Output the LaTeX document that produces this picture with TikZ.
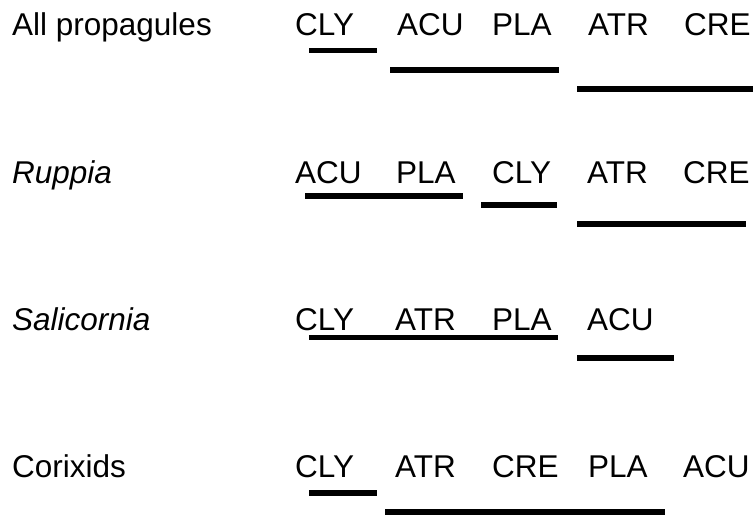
\documentclass[tikz,border=0pt]{standalone}
\usepackage{fontspec}
\setmainfont{Liberation Sans}
\begin{document}
\begin{tikzpicture}[x=1pt,y=-1pt,
  every node/.style={anchor=base west,inner sep=0pt,font=\fontsize{31.5}{36}\selectfont},
  bar/.style={line width=5.5pt,black}]

  \useasboundingbox (0,0) rectangle (753,528);

  % row labels
  \node (lAll) at (12,35) {All propagules};
  \node (lRup) at (12,183) {\itshape Ruppia};
  \node (lSal) at (12,330) {\itshape Salicornia};
  \node (lCor) at (12,477) {Corixids};

  % all propagules
  \node (aCLY) at (295,35) {CLY};
  \node (aACU) at (397,35) {ACU};
  \node (aPLA) at (492,35) {PLA};
  \node (aATR) at (588,35) {ATR};
  \node (aCRE) at (684,35) {CRE};
  \draw[bar] (309,50.5) -- (377,50.5);
  \draw[bar] (390,70) -- (559,70);
  \draw[bar] (577,89) -- (753,89);

  % Ruppia
  \node (rACU) at (295,183) {ACU};
  \node (rPLA) at (396,183) {PLA};
  \node (rCLY) at (492,183) {CLY};
  \node (rATR) at (587,183) {ATR};
  \node (rCRE) at (683,183) {CRE};
  \draw[bar] (305,196) -- (463,196);
  \draw[bar] (481,205) -- (557,205);
  \draw[bar] (577,224) -- (746,224);

  % Salicornia
  \node (sCLY) at (295,330) {CLY};
  \node (sATR) at (395,330) {ATR};
  \node (sPLA) at (492,330) {PLA};
  \node (sACU) at (587,330) {ACU};
  \draw[bar] (309,337.5) -- (558,337.5);
  \draw[bar] (577,358) -- (674,358);

  % Corixids
  \node (cCLY) at (295,477) {CLY};
  \node (cATR) at (395,477) {ATR};
  \node (cCRE) at (492,477) {CRE};
  \node (cPLA) at (588,477) {PLA};
  \node (cACU) at (683,477) {ACU};
  \draw[bar] (309,493) -- (377,493);
  \draw[bar] (385,512) -- (665,512);

\end{tikzpicture}
\end{document}
